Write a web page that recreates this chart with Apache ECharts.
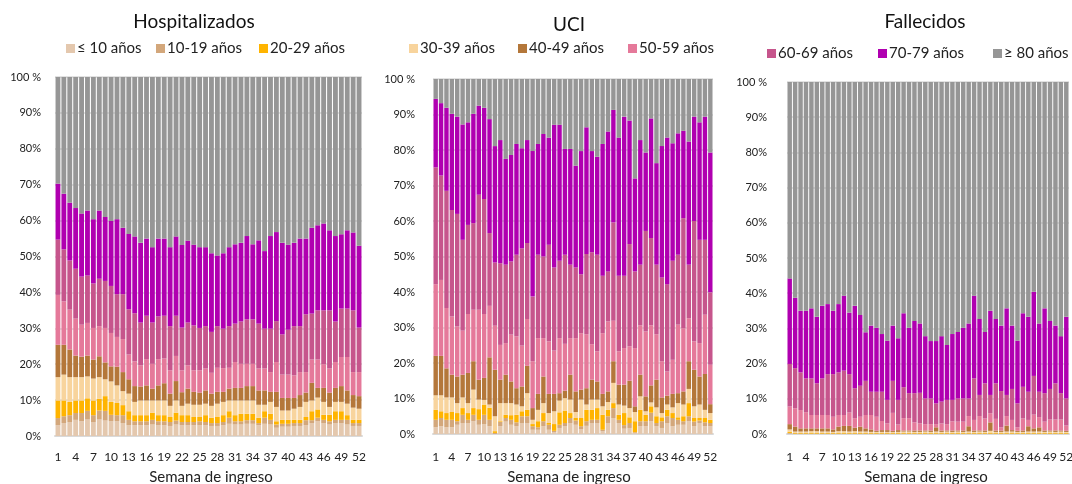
<!DOCTYPE html>
<html>
<head>
<meta charset="utf-8">
<script src="https://cdn.jsdelivr.net/npm/echarts@6/dist/echarts.min.js"></script>
<style>
  html, body { margin: 0; padding: 0; background: #ffffff; }
  #chart { width: 1072px; height: 484px; }
</style>
</head>
<body>
<div id="chart"></div>
<script>
// Semanas de ingreso (eje X)
const weeks = ['1','2','3','4','5','6','7','8','9','10','11','12','13','14','15','16','17','18','19','20',
  '21','22','23','24','25','26','27','28','29','30','31','32','33','34','35','36','37','38','39','40',
  '41','42','43','44','45','46','47','48','49','50','51','52'];

// Grupos de edad
const ageGroups = ['≤ 10 años', '10-19 años', '20-29 años', '30-39 años', '40-49 años',
  '50-59 años', '60-69 años', '70-79 años', '≥ 80 años'];
const ageColors = ['#e4c8ae', '#d3a77b', '#ffb400', '#f8d49d', '#b4773a',
  '#e5799a', '#c6558c', '#b000b0', '#969696'];

const panelTitles = ['Hospitalizados', 'UCI', 'Fallecidos'];
const xAxisTitle = 'Semana de ingreso';

// Hospitalizados: % por grupo de edad y semana
const hospU10 = [3.0,3.6,3.9,4.5,4.1,4.6,3.9,4.6,4.3,4.1, 4.1,3.6,3.0,3.0,3.0,3.0,3.2,3.0,3.0,2.8, 3.2,3.0,3.0,3.0,3.0,3.0,2.8,2.8,3.0,3.4, 3.2,3.2,3.4,3.4,3.0,3.4,3.2,2.3,2.6,2.6, 2.8,2.8,3.0,3.6,4.1,3.6,3.2,3.6,3.6,3.2, 2.8,2.8];
const hosp10 = [2.0,1.9,1.9,1.9,2.3,2.4,1.9,2.5,2.7,1.8, 1.7,2.2,1.5,1.1,1.1,1.1,1.3,1.1,1.1,1.1, 1.1,0.9,0.9,0.9,1.1,0.9,0.8,0.8,0.9,1.7, 0.9,0.9,1.0,1.0,0.6,1.7,1.3,0.9,0.8,0.8, 0.8,0.8,1.4,0.8,1.0,0.9,0.9,0.9,0.9,1.3, 0.8,0.8];
const hosp20 = [4.9,4.4,3.7,3.5,3.5,3.5,4.1,3.3,4.1,3.6, 3.4,2.8,2.4,1.7,1.7,1.7,2.0,1.7,1.7,1.4, 2.2,1.9,1.9,1.4,1.2,1.9,1.5,1.7,1.9,1.8, 1.7,2.1,1.8,1.8,1.5,1.8,1.7,0.9,1.1,1.1, 0.9,0.9,0.9,2.5,2.3,1.4,1.8,2.4,2.4,1.3, 0.9,0.9];
const hosp30 = [6.5,7.2,6.9,6.5,6.5,6.1,6.1,6.0,4.7,5.7, 4.9,3.9,4.9,3.7,4.1,4.1,3.4,4.1,4.1,3.1, 3.4,2.6,3.2,3.4,3.4,3.2,3.3,3.7,3.7,3.0, 4.1,3.7,3.7,3.7,3.6,1.8,3.3,4.0,2.6,2.6, 3.1,3.6,4.2,3.0,3.3,3.6,2.2,2.6,2.6,3.2, 3.4,3.1];
const hosp40 = [9.0,8.3,7.7,6.0,5.7,5.8,5.3,5.8,4.7,4.2, 5.2,5.3,4.0,4.4,3.9,4.2,3.3,4.2,4.8,3.4, 5.4,3.8,4.2,3.6,3.4,3.7,3.4,3.3,2.8,3.3, 3.5,3.5,4.0,4.0,4.0,4.0,2.8,4.2,3.5,3.5, 3.0,3.3,2.6,4.9,2.7,3.9,4.0,3.9,4.4,3.7, 3.5,3.5];
const hosp50 = [13.9,12.1,11.1,10.3,8.9,9.1,8.8,8.4,9.6,9.3, 8.3,9.2,6.9,6.9,5.9,7.3,6.9,7.3,6.9,6.5, 7.0,6.1,6.5,6.0,6.2,6.1,5.8,6.7,6.6,5.8, 7.2,6.7,6.2,6.2,6.1,6.1,5.5,8.3,6.5,6.5, 6.3,6.4,5.7,6.5,7.9,6.6,6.7,7.2,8.1,9.3, 6.4,6.7];
const hosp60 = [15.4,14.5,13.7,13.9,13.4,13.2,12.4,13.2,13.1,13.1, 11.9,12.5,12.6,13.4,11.9,12.1,11.5,11.9,11.9,12.3, 11.2,11.9,11.9,12.5,11.8,11.8,11.4,11.6,11.0,11.6, 10.7,11.8,12.4,12.4,12.5,11.1,12.1,11.4,11.2,12.5, 13.7,12.8,16.1,12.8,13.7,15.0,16.2,11.3,13.5,13.5, 17.2,12.4];
const hosp70 = [15.6,15.5,16.1,16.9,17.6,18.1,17.9,19.0,17.8,18.1, 20.9,18.5,21.0,21.4,22.2,21.5,21.0,21.7,21.5,22.0, 22.1,23.0,22.8,22.5,22.5,22.0,21.9,19.7,21.0,22.0, 22.1,21.9,23.2,20.9,23.2,21.6,25.8,24.8,25.5,23.7, 23.2,24.4,21.1,23.9,23.7,24.2,22.3,23.8,20.7,21.8, 21.7,22.8];
const hosp80 = [29.7,32.5,35.0,36.5,38.0,37.2,39.6,37.2,39.0,40.1, 39.6,42.0,43.7,44.4,46.2,45.0,47.4,45.0,45.0,47.4, 44.4,46.8,45.6,46.7,47.4,47.4,49.1,49.7,49.1,47.4, 46.6,46.2,44.3,46.6,45.5,48.5,44.3,43.2,46.2,46.7, 46.2,45.0,45.0,42.0,41.3,40.8,42.7,44.3,43.8,42.7, 43.3,47.0];

// UCI: % por grupo de edad y semana
const uciU10 = [1.9,2.2,1.9,1.9,2.6,3.1,3.1,3.6,2.6,2.8, 2.2,0.0,2.2,3.5,2.6,2.2,3.1,3.1,1.2,1.2, 2.2,1.2,0.5,1.7,2.2,3.1,2.6,1.4,2.3,3.1, 3.1,0.8,3.1,4.5,3.1,1.5,1.7,0.3,2.2,2.2, 3.6,2.2,1.7,3.1,2.2,2.6,2.6,3.6,2.2,3.1, 2.2,2.2];
const uci10 = [2.1,2.3,2.1,2.1,1.0,2.3,0.9,1.8,1.4,2.6, 1.8,0.3,1.2,1.0,1.4,1.1,1.9,1.9,1.0,0.7, 1.4,1.4,0.4,0.9,0.9,1.4,1.2,0.8,1.3,0.9, 0.9,0.4,1.9,2.8,0.9,1.0,1.4,0.2,1.4,1.4, 2.4,0.9,1.9,1.9,2.3,1.4,1.0,1.4,1.3,0.7, 1.1,0.9];
const uci20 = [2.8,1.9,1.9,2.2,2.3,1.9,1.9,1.9,3.0,2.9, 3.4,0.5,0.2,0.9,1.3,2.1,1.4,1.8,0.6,1.7, 2.3,0.5,1.9,3.5,3.5,1.4,0.7,2.3,3.2,2.8, 3.3,4.2,1.8,1.4,1.4,3.4,1.6,3.1,3.2,1.8, 1.8,1.9,1.1,1.8,1.4,0.7,1.4,3.7,1.0,0.7, 1.2,0.9];
const uci30 = [4.1,4.5,4.4,4.1,2.8,3.0,2.8,5.2,2.7,1.3, 0.9,4.2,5.1,3.3,3.4,2.9,1.4,4.7,1.2,3.2, 2.8,2.8,3.6,3.3,3.5,3.8,1.7,5.2,1.5,2.9, 2.4,2.4,2.2,5.7,2.9,2.1,2.6,2.6,3.8,1.0, 1.1,2.5,1.2,1.5,1.6,4.0,3.3,4.0,3.3,3.8, 2.3,1.9];
const uci40 = [11.1,11.1,8.2,6.4,7.5,6.4,8.5,8.0,5.6,6.2, 13.3,13.1,6.6,8.0,6.1,4.6,5.6,7.7,3.3,4.5, 7.5,5.4,4.9,2.1,2.1,7.0,5.8,2.8,4.6,5.6, 5.1,3.5,3.0,6.1,5.6,5.9,7.7,1.6,6.1,4.2, 4.8,7.8,4.4,2.5,3.8,2.8,3.7,7.8,10.3,7.9, 10.1,2.5];
const uci50 = [20.2,21.4,17.0,16.4,14.1,12.4,16.6,14.5,19.7,18.0, 14.5,12.4,9.8,8.9,13.2,14.6,11.5,13.2,13.2,15.7, 10.8,14.8,12.2,15.5,13.2,10.3,15.0,15.9,15.2,10.0, 8.5,17.1,19.7,11.4,9.4,10.3,9.7,16.4,13.9,18.3, 16.9,12.8,10.2,6.8,9.6,19.3,17.8,12.1,8.0,9.4, 16.7,11.1];
const uci60 = [32.9,29.4,33.0,30.0,31.7,25.6,25.1,24.4,32.4,32.4, 20.5,17.8,23.0,22.1,20.6,23.0,27.4,21.4,18.2,23.5, 23.0,27.2,23.4,21.8,25.1,20.7,19.9,16.6,22.6,25.9, 27.2,16.2,14.1,27.7,21.3,20.4,28.8,21.6,17.1,28.3, 24.6,19.6,23.6,24.6,27.9,19.7,31.0,15.1,33.9,29.1, 21.1,20.4];
const uci70 = [19.3,20.4,23.4,27.1,27.4,32.5,28.9,30.8,25.1,25.7, 32.1,32.8,34.7,29.8,30.0,31.2,28.2,29.0,41.0,31.2, 34.5,30.2,40.2,38.3,29.8,32.6,28.7,34.7,35.7,28.5, 27.6,37.1,39.4,31.7,38.9,44.8,34.8,26.2,35.1,22.1, 33.7,28.6,37.0,41.3,33.1,34.2,24.6,34.7,29.4,33.1, 34.7,39.4];
const uci80 = [5.6,6.8,8.1,9.8,10.6,12.8,12.2,9.8,7.5,8.1, 11.3,18.9,17.2,22.5,21.4,18.3,19.5,17.2,20.3,18.3, 15.5,16.5,12.9,12.9,19.7,19.7,24.4,20.3,13.6,20.3, 21.9,18.3,14.8,8.7,16.5,10.6,11.7,28.0,17.2,20.7, 11.1,23.7,18.9,16.5,18.1,15.3,14.6,17.6,10.6,12.2, 10.6,20.7];

// Fallecidos: % por grupo de edad y semana
const falU10 = [0.1,0,0,0,0,0,0,0,0,0, 0,0,0,0,0,0,0,0,0,0, 0,0,0,0,0,0,0,0,0,0, 0,0,0,0,0,0,0,0,0,0, 0,0,0,0,0,0,0,0,0,0, 0,0];
const fal10 = [0.2,0.1,0.1,0.1,0.1,0.1,0.1,0.1,0.1,0.1, 0.1,0.1,0.1,0.1,0.1,0.1,0.1,0.1,0.1,0.1, 0.1,0.1,0.1,0.1,0.1,0.1,0.1,0.1,0.1,0.1, 0.1,0.1,0.1,0.1,0.1,0.1,0.1,0.1,0.1,0.1, 0.1,0.1,0.1,0.1,0.1,0.1,0.1,0.1,0.1,0.1, 0.1,0.1];
const fal20 = [0.3,0.2,0.2,0.2,0.3,0.2,0.2,0.2,0.2,0.2, 0.3,0.2,0.2,0.2,0.2,0.2,0.2,0.2,0.2,0.2, 0.2,0.2,0.2,0.2,0.2,0.2,0.2,0.2,0.2,0.2, 0.2,0.2,0.2,0.2,0.2,0.2,0.2,0.3,0.2,0.2, 0.2,0.2,0.2,0.2,0.2,0.2,0.2,0.2,0.2,0.2, 0.2,0.2];
const fal30 = [0.7,0.4,0.4,0.4,0.4,0.5,0.4,0.4,0.3,0.5, 0.4,0.4,0.5,0.4,0.4,0.3,0.3,0.3,0.3,0.3, 0.3,0.4,0.4,0.3,0.3,0.4,0.3,0.4,0.3,0.4, 0.3,0.4,0.3,0.4,0.3,0.4,0.3,0.5,0.3,0.3, 0.4,0.4,0.3,0.3,0.4,0.4,0.4,0.3,0.4,0.3, 0.4,0.3];
const fal40 = [1.5,1.4,0.9,0.9,0.8,0.8,0.9,0.9,0.7,1.3, 1.5,1.6,1.0,1.4,0.9,0.7,0.3,0.5,0.5,0.3, 0.5,0.3,0.3,0.4,0.4,0.3,0.4,1.2,0.4,0.3, 0.4,0.3,0.4,1.5,0.4,0.3,0.4,2.4,0.4,0.4, 1.7,0.4,0.3,0.4,1.5,0.9,1.2,0.4,0.3,0.4, 0.3,0.3];
const fal50 = [5.0,5.2,5.2,4.6,3.8,3.8,3.8,3.8,3.6,3.3, 3.1,3.8,2.7,2.8,3.8,4.1,4.0,2.6,1.9,5.1, 1.6,3.5,3.5,2.3,2.0,1.8,1.8,0.9,2.0,1.8, 2.6,2.5,2.5,2.9,3.0,4.1,3.4,2.6,3.3,0.9, 2.7,2.9,1.0,3.4,1.8,3.9,2.9,2.5,3.1,3.1, 3.1,1.5];
const fal60 = [12.1,11.4,10.7,9.6,10.4,9.0,10.4,11.6,12.1,12.1, 12.6,10.9,8.5,8.8,9.7,6.6,7.1,8.3,6.7,9.1, 7.0,8.8,7.1,8.3,8.7,7.3,7.3,5.9,6.2,6.9, 6.1,6.6,6.6,5.0,11.8,6.0,10.0,5.2,10.1,10.3, 6.0,8.8,6.8,9.0,8.0,11.0,7.2,8.1,8.7,10.3, 7.5,7.7];
const fal70 = [24.3,20.0,17.5,19.2,19.9,18.9,20.6,19.9,18.0,19.4, 21.3,17.5,23.4,20.1,13.8,18.8,18.2,16.4,16.8,15.7, 17.5,21.0,18.6,20.5,19.7,17.7,16.3,17.7,18.6,15.6, 18.7,18.9,20.1,21.3,23.5,21.6,14.6,23.9,18.3,18.6, 24.6,18.0,17.8,20.9,21.3,23.9,19.4,24.1,19.3,16.4, 16.2,23.2];
const fal80 = [55.8,61.3,65.0,65.0,64.3,66.7,63.6,63.1,65.0,63.1, 60.7,65.5,63.6,66.2,71.1,69.2,69.8,71.6,73.5,69.2, 72.8,65.7,69.8,67.9,68.6,72.2,73.6,73.6,72.2,74.7, 71.6,71.0,69.8,68.6,60.7,67.3,71.0,65.0,67.3,69.2, 64.3,69.2,73.5,65.7,66.7,59.6,68.6,64.3,67.9,69.2, 72.2,66.7];

const panelData = [
  [hospU10, hosp10, hosp20, hosp30, hosp40, hosp50, hosp60, hosp70, hosp80],
  [uciU10, uci10, uci20, uci30, uci40, uci50, uci60, uci70, uci80],
  [falU10, fal10, fal20, fal30, fal40, fal50, fal60, fal70, fal80]
];

// Layout of the three panels
const FONT = 'Lato, "Open Sans", sans-serif';
const grids = [
  { left: 55,  top: 77, width: 307, height: 359 },
  { left: 433, top: 79, width: 280, height: 355 },
  { left: 787, top: 82, width: 282, height: 352 }
];
const titlePos = [ { x: 194, y: 12 }, { x: 569, y: 15 }, { x: 925, y: 12 } ];
const axisTitleX = [211, 569, 926];
// legend item anchors: [x, y] per age group
const legendPos = [
  [66, 41], [156, 41], [259, 41],
  [409, 41], [518, 41], [628, 41],
  [767, 46], [878, 46], [993, 46]
];

const option = {
  animation: false,
  backgroundColor: '#ffffff',
  textStyle: { fontFamily: FONT },
  title: panelTitles.map((t, i) => ({
    text: t,
    left: titlePos[i].x,
    top: titlePos[i].y,
    padding: 0,
    textAlign: 'center',
    textStyle: { fontFamily: FONT, fontSize: 19, fontWeight: 'normal', color: '#111111' }
  })),
  legend: ageGroups.map((name, k) => ({
    data: [name],
    left: legendPos[k][0],
    top: legendPos[k][1],
    icon: 'rect',
    itemWidth: 9,
    itemHeight: 9,
    itemGap: 0,
    padding: 0,
    selectedMode: false,
    textStyle: { fontFamily: FONT, fontSize: 15, color: '#222222', padding: [0, 0, 0, -3] }
  })),
  // axis titles under each panel
  graphic: axisTitleX.map(x => ({
    type: 'text',
    x: x,
    y: 477,
    silent: true,
    style: {
      text: xAxisTitle,
      fill: '#222222',
      font: '15px ' + FONT,
      align: 'center',
      verticalAlign: 'middle'
    }
  })),
  grid: grids.map(g => ({
    left: g.left, top: g.top, width: g.width, height: g.height,
    containLabel: false,
    outerBoundsMode: 'none'
  })),
  xAxis: grids.map((g, i) => ({
    type: 'category',
    gridIndex: i,
    data: weeks,
    axisLine: { show: true, lineStyle: { color: '#d9d9d9', width: 2 } },
    axisTick: { show: false },
    axisLabel: { interval: 2, margin: 455 - 4 - (g.top + g.height), fontSize: 12, color: '#222222', fontFamily: FONT }
  })),
  yAxis: grids.map((g, i) => ({
    type: 'value',
    gridIndex: i,
    min: 0,
    max: 100,
    interval: 10,
    axisLine: { show: false },
    axisTick: { show: false },
    splitLine: { show: true, lineStyle: { color: '#d9d9d9', width: 1.5 } },
    axisLabel: {
      margin: i === 0 ? 14 : (i === 1 ? 18 : 20),
      fontSize: 11,
      color: '#222222',
      fontFamily: FONT,
      formatter: v => (v === 100 ? '100 %' : v + '%')
    }
  })),
  series: []
};

panelData.forEach((groups, p) => {
  groups.forEach((values, k) => {
    option.series.push({
      type: 'bar',
      name: ageGroups[k],
      xAxisIndex: p,
      yAxisIndex: p,
      stack: 'panel' + p,
      data: values,
      barCategoryGap: '18%',
      itemStyle: { color: ageColors[k] },
      emphasis: { disabled: true }
    });
  });
});

const chart = echarts.init(document.getElementById('chart'), null, { renderer: 'canvas' });
chart.setOption(option);
</script>
</body>
</html>
